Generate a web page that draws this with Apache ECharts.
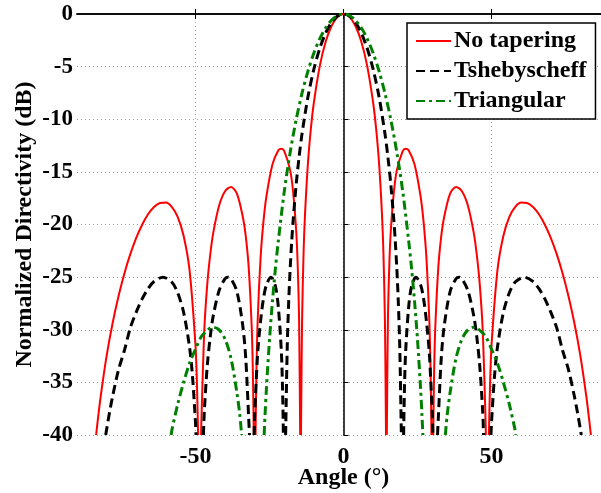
<!DOCTYPE html>
<html>
<head>
<meta charset="utf-8">
<script src="https://cdn.jsdelivr.net/npm/echarts@6/dist/echarts.min.js"></script>
<style>
html,body{margin:0;padding:0;background:#fff;}
#c{width:601px;height:493px;}
</style>
</head>
<body>
<div id="c"></div>
<script>
// ---- data (angle in degrees, normalized directivity in dB) ----
const seriesNames = ['No tapering', 'Tshebyscheff', 'Triangular'];
const xTicks = [-50, 0, 50];
const yTicks = [-40, -35, -30, -25, -20, -15, -10, -5, 0];

const redAngle = [-83.55,-83,-82,-80,-78,-76,-74,-72,-70,-68,-66,-64,-62,-60,-58,-56,-54,-52,-50,-49.5,-49.1,-48.6,-48.07,-48,-47,-46,-45,-44,-42,-40,-38,-36,-34,-33,-32,-31,-30.6,-30.3,-30,-29.7,-29.5,-29,-28,-27,-26,-24,-22,-21,-20,-18,-17,-16,-15.5,-15,-14.63,-14.48,-14.35,-14.3,-14,-13.5,-13,-12,-11,-10,-8,-6,-4,-2,
  0,2,4,6,8,10,11,12,13,13.5,14,14.3,14.35,14.48,14.63,15,15.5,16,17,18,20,21,22,24,26,27,28,29,29.5,29.7,30,30.3,30.6,31,32,33,34,36,38,40,42,44,45,46,47,48,48.07,48.6,49.1,49.5,50,52,54,56,58,60,62,64,66,68,70,72,74,76,78,80,82,83,83.55];
const redDb = [-40,-38.64,-36.34,-32.49,-29.4,-26.84,-24.65,-22.82,-21.28,-20.02,-19.03,-18.34,-17.96,-17.92,-18.32,-19.28,-21.07,-24.32,-31.43,-35.1,-40,null,-40,-38.8,-29.97,-25.64,-22.85,-20.82,-18.2,-16.84,-16.43,-17.07,-19.28,-21.13,-24.15,-29.77,-34.08,-40,null,-40,-35.4,-29.27,-23.15,-19.64,-17.27,-14.3,-12.95,-12.8,-13.02,-14.86,-16.95,-20.5,-23.6,-29.1,-40,null,-40,-38.1,-29.3,-22.86,-19.06,-14.15,-10.85,-8.41,-4.93,-2.62,-1.12,-0.27,
  0,-0.27,-1.12,-2.62,-4.93,-8.41,-10.85,-14.15,-19.06,-22.86,-29.3,-38.1,-40,null,-40,-29.1,-23.6,-20.5,-16.95,-14.86,-13.02,-12.8,-12.95,-14.3,-17.27,-19.64,-23.15,-29.27,-35.4,-40,null,-40,-34.08,-29.77,-24.15,-21.13,-19.28,-17.07,-16.43,-16.84,-18.2,-20.82,-22.85,-25.64,-29.97,-38.8,-40,null,-40,-35.1,-31.43,-24.32,-21.07,-19.28,-18.32,-17.92,-17.96,-18.34,-19.03,-20.02,-21.28,-22.82,-24.65,-26.84,-29.4,-32.49,-36.34,-38.64,-40];

const blackAngle = [-80.3,-80,-79,-78,-76,-74,-72,-70,-68,-66,-64,-61,-58,-56,-54,-52,-51,-50,-49.8,-48.57,-47.3,-47,-46,-45,-44,-42,-40,-39,-38,-36,-34,-33,-32,-31.75,-31,-30.2,-30,-29,-28,-27,-26,-24.5,-23,-22,-21,-20.6,-20.3,-19.92,-19.55,-19.5,-19,-18.5,-18,-17.5,-17,-16,-15,-14,-12,-10,-8,-6,-4,-2,
  0,2,4,6,8,10,12,14,15,16,17,17.5,18,18.5,19,19.5,19.55,19.92,20.3,20.6,21,22,23,24.5,26,27,28,29,30,30.2,31,31.75,32,33,34,36,38,39,40,42,44,45,46,47,47.3,48.57,49.8,50,51,52,54,56,58,61,64,66,68,70,72,74,76,78,79,80,80.3];
const blackDb = [-40,-39.47,-37.84,-36.36,-33.82,-31.97,-29.82,-28.33,-27.07,-26.1,-25.42,-25,-25.47,-26.49,-28.34,-31.63,-34.4,-38.74,-40,null,-40,-37.74,-33.39,-30.66,-28.7,-26.27,-25.15,-25,-25.15,-26.37,-29.66,-32.76,-38.5,-40,null,-40,-38.2,-32.3,-29.16,-26.98,-25.71,-25,-25.85,-27.87,-32,-35.4,-40,null,-40,-39.3,-31.64,-27.28,-24.15,-21.66,-19.6,-16.25,-13.59,-11.37,-7.87,-5.24,-3.26,-1.79,-0.78,-0.19,
  0,-0.19,-0.78,-1.79,-3.26,-5.24,-7.87,-11.37,-13.59,-16.25,-19.6,-21.66,-24.15,-27.28,-31.64,-39.3,-40,null,-40,-35.4,-32,-27.87,-25.85,-25,-25.71,-26.98,-29.16,-32.3,-38.2,-40,null,-40,-38.5,-32.76,-29.66,-26.37,-25.15,-25,-25.15,-26.27,-28.7,-30.66,-33.39,-37.74,-40,null,-40,-38.74,-34.4,-31.63,-28.34,-26.49,-25.47,-25,-25.42,-26.1,-27.07,-28.33,-29.82,-31.97,-33.82,-36.36,-37.84,-39.47,-40];

const greenAngle = [-58.2,-58,-56,-54,-52,-50,-48,-46,-45,-44,-42,-40,-38,-36,-35,-34.4,-30,-26.8,-26.5,-26,-25,-24,-23,-22,-20,-18,-16,-14,-12,-10,-8,-6,-4,-2,
  0,2,4,6,8,10,12,14,16,18,20,22,23,24,25,26,26.5,26.8,30,34.4,35,36,38,40,42,44,45,46,48,50,52,54,56,58,58.2];
const greenDb = [-40,-39.59,-37.08,-35.01,-33.19,-31.86,-30.64,-30.05,-29.83,-29.76,-30.01,-30.89,-32.7,-35.97,-38.13,-40,null,-40,-38.13,-35.44,-30.98,-27.32,-24.2,-21.54,-16.85,-13.13,-10.06,-7.52,-5.42,-3.71,-2.34,-1.31,-0.58,-0.14,
  0,-0.14,-0.58,-1.31,-2.34,-3.71,-5.42,-7.52,-10.06,-13.13,-16.85,-21.54,-24.2,-27.32,-30.98,-35.44,-38.13,-40,null,-40,-38.13,-35.97,-32.7,-30.89,-30.01,-29.76,-29.83,-30.05,-30.64,-31.86,-33.19,-35.01,-37.08,-39.59,-40];

// ---- chart ----
function pairs(xs, ys) { return xs.map((x, i) => [x, ys[i] === null ? '-' : ys[i]]); }
const FONT = "'Liberation Serif', 'Times New Roman', serif";
const gridColor = '#a0a0a0';

const chart = echarts.init(document.getElementById('c'), null, { renderer: 'canvas' });
const axisLineStyle = { show: true, lineStyle: { color: '#000', width: 1.5 } };

chart.setOption({
  backgroundColor: '#fff',
  animation: false,
  grid: { left: 77, right: -9, top: 14, bottom: 58, containLabel: false, outerBoundsMode: 'none' },
  legend: {
    data: seriesNames,
    orient: 'vertical',
    left: 407, top: 23,
    backgroundColor: '#fff',
    borderColor: '#000', borderWidth: 1.5,
    padding: [6, 9, 6, 8],
    itemGap: 6, itemWidth: 35, itemHeight: 14,
    itemStyle: { opacity: 0 },
    textStyle: { fontFamily: FONT, fontWeight: 'bold', fontSize: 24, color: '#000', lineHeight: 23, padding: [0,0,0,-2] }
  },
  xAxis: [{
    type: 'value', min: -90, max: 90, position: 'bottom',
    name: 'Angle (°)', nameLocation: 'middle', nameGap: 31, nameMoveOverlap: false,
    nameTextStyle: { fontFamily: FONT, fontWeight: 'bold', fontSize: 24, color: '#000' },
    axisLine: axisLineStyle,
    axisTick: { show: true, inside: true, length: 5, customValues: xTicks, lineStyle: { color: '#000', width: 1 } },
    axisLabel: { customValues: xTicks, margin: 10, fontFamily: FONT, fontWeight: 'bold', fontSize: 24, color: '#000' },
    splitLine: { show: true, lineStyle: { color: gridColor, width: 1, type: [1, 3] } }
  }, {
    type: 'value', min: -90, max: 90, position: 'top',
    axisLine: axisLineStyle,
    axisTick: { show: true, inside: true, length: 5, customValues: xTicks, lineStyle: { color: '#000', width: 1 } },
    axisLabel: { show: false },
    splitLine: { show: false }
  }],
  yAxis: {
    type: 'value', min: -40, max: 0, interval: 5,
    name: 'Normalized Directivity (dB)', nameLocation: 'middle', nameGap: 40, nameMoveOverlap: false,
    nameTextStyle: { fontFamily: FONT, fontWeight: 'bold', fontSize: 24, color: '#000' },
    axisLine: axisLineStyle,
    axisTick: { show: true, inside: true, length: 5, lineStyle: { color: '#000', width: 1 } },
    axisLabel: { margin: 4, fontFamily: FONT, fontWeight: 'bold', fontSize: 23, color: '#000' },
    splitLine: { show: true, lineStyle: { color: gridColor, width: 1, type: [1, 3] } }
  },
  series: [
    { name: seriesNames[0], type: 'line', xAxisIndex: 0, data: pairs(redAngle, redDb), showSymbol: false, symbol: 'none',
      smooth: 0.3, connectNulls: false, clip: true,
      lineStyle: { color: '#ff0000', width: 2 }, itemStyle: { color: '#ff0000' } },
    { name: seriesNames[1], type: 'line', xAxisIndex: 0, data: pairs(blackAngle, blackDb), showSymbol: false, symbol: 'none',
      smooth: 0.3, connectNulls: false, clip: true,
      lineStyle: { color: '#000', width: 3, type: [9, 5] }, itemStyle: { color: '#000' } },
    { name: seriesNames[2], type: 'line', xAxisIndex: 0, data: pairs(greenAngle, greenDb), showSymbol: false, symbol: 'none',
      smooth: 0.3, connectNulls: false, clip: true,
      lineStyle: { color: '#008000', width: 3, type: [9, 4, 3, 4] }, itemStyle: { color: '#008000' } }
  ]
});
</script>
</body>
</html>
